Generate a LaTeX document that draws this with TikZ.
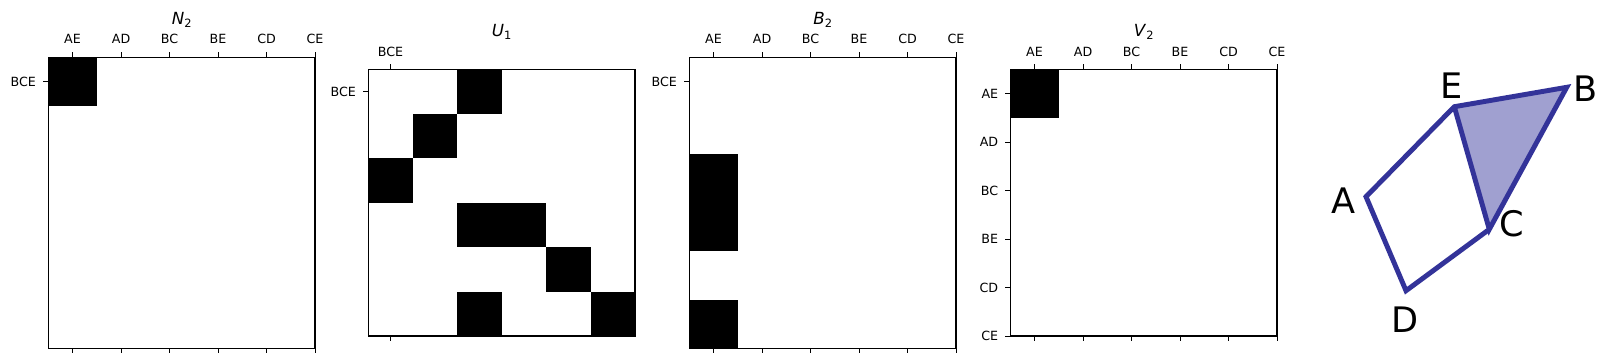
\documentclass[tikz,border=0pt]{standalone}
\usepackage{fontspec}
\setmainfont{DejaVu Sans}
\definecolor{edgeblue}{RGB}{51,51,153}
\definecolor{facefill}{RGB}{160,160,208}
\newcommand{\sublbl}[1]{\raisebox{-0.3ex}{\fontsize{6.5}{7}\selectfont #1}}

\begin{document}
\begin{tikzpicture}[x=0.02cm,y=-0.02cm,
    frame/.style={draw,line width=0.7pt},
    tk/.style={line width=0.6pt},
    tl/.style={font=\fontsize{7.2}{8}\selectfont,inner sep=0pt},
    ttl/.style={font=\fontsize{9.5}{10}\selectfont,inner sep=0pt},
    vlbl/.style={font=\fontsize{20}{22}\selectfont,inner sep=0pt},
    cell/.style={fill=black}]
  \useasboundingbox (0,0) rectangle (1607,363);

  % N_2
  \fill[cell] (48.3,57.3) rectangle (96.8,105.8);
  \draw[frame] (48.3,57.3) rectangle (315,348.3);
  \foreach \lbl [count=\i from 0] in {AE,AD,BC,BE,CD,CE} {
    \draw[tk] (72.55+48.5*\i,57.3) -- ++(0,-5);
    \draw[tk] (72.55+48.5*\i,348.3) -- ++(0,5);
    \node[tl] (nx\i) at (72.55+48.5*\i,39.3) {\lbl};
  }
  \draw[tk] (48.3,81.55) -- ++(-5,0);
  \node[tl,anchor=east] (ny0) at (36.3,81.55) {BCE};
  \node[ttl] (tN) at (181.7,20) {\textit{N}\sublbl{2}};

  % U_1
  \foreach \r/\c in {0/2,1/1,2/0,3/2,3/3,4/4,5/2,5/5}
    \fill[cell] (368.3+44.45*\c,69.3+44.45*\r) rectangle ++(44.45,44.45);
  \draw[frame] (368.3,69.3) rectangle (635,336);
  \draw[tk] (390.5,69.3) -- ++(0,-5);
  \draw[tk] (390.5,336) -- ++(0,5);
  \draw[tk] (368.3,91.5) -- ++(-5,0);
  \node[tl] (ux0) at (390.5,51.7) {BCE};
  \node[tl,anchor=east] (uy0) at (356.3,91.5) {BCE};
  \node[ttl] (tU) at (501.7,31.7) {\textit{U}\sublbl{1}};

  % B_2
  \fill[cell] (689.3,154.3) rectangle (737.8,251.3);
  \fill[cell] (689.3,299.8) rectangle (737.8,348.3);
  \draw[frame] (689.3,57.3) rectangle (956,348.3);
  \foreach \lbl [count=\i from 0] in {AE,AD,BC,BE,CD,CE} {
    \draw[tk] (713.55+48.5*\i,57.3) -- ++(0,-5);
    \draw[tk] (713.55+48.5*\i,348.3) -- ++(0,5);
    \node[tl] (bx\i) at (713.55+48.5*\i,39.3) {\lbl};
  }
  \draw[tk] (689.3,81.55) -- ++(-5,0);
  \node[tl,anchor=east] (by0) at (677.3,81.55) {BCE};
  \node[ttl] (tB) at (822.7,20) {\textit{B}\sublbl{2}};

  % V_2
  \fill[cell] (1010.3,69.3) rectangle (1058.8,117.8);
  \draw[frame] (1010.3,69.3) rectangle (1277,336);
  \foreach \lbl [count=\i from 0] in {AE,AD,BC,BE,CD,CE} {
    \draw[tk] (1034.55+48.5*\i,69.3) -- ++(0,-5);
    \draw[tk] (1034.55+48.5*\i,336) -- ++(0,5);
    \draw[tk] (1010.3,93.55+48.5*\i) -- ++(-5,0);
    \node[tl] (vx\i) at (1034.55+48.5*\i,51.7) {\lbl};
    \node[tl,anchor=east] (vy\i) at (998.5,93.55+48.5*\i) {\lbl};
  }
  \node[ttl] (tV) at (1143.7,31.7) {\textit{V}\sublbl{2}};

  % complex
  \coordinate (A) at (1366,196.7);
  \coordinate (E) at (1454.3,106.7);
  \coordinate (B) at (1566.7,87.3);
  \coordinate (C) at (1489.3,229.3);
  \coordinate (D) at (1406,290.7);
  \fill[facefill] (E) -- (B) -- (C) -- cycle;
  \draw[edgeblue,line width=2.8pt] (C) -- (D) -- (A) -- (E) -- (B) -- (C) -- (E);
  \node[vlbl] (lA) at (1343.3,200.7) {A};
  \node[vlbl] (lE) at (1451.7,85.3) {E};
  \node[vlbl] (lB) at (1586,89) {B};
  \node[vlbl] (lC) at (1511.7,224) {C};
  \node[vlbl] (lD) at (1405,319.7) {D};
\end{tikzpicture}
\end{document}
